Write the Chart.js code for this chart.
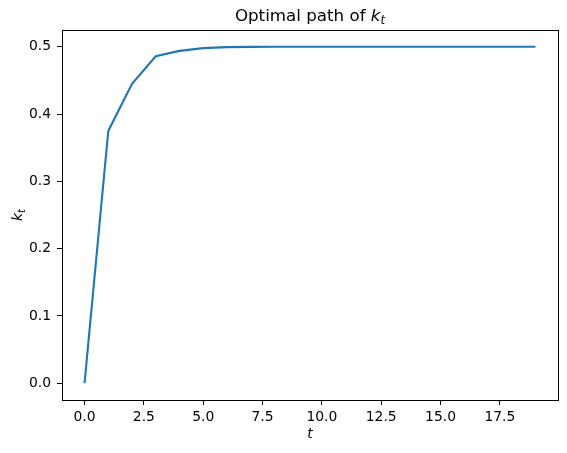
<!DOCTYPE html>
<html>
<head>
<meta charset="utf-8">
<script src="https://cdn.jsdelivr.net/npm/chart.js@4"></script>
<style>
  html, body { margin: 0; padding: 0; background: #fff; }
  #wrap { width: 567px; height: 453px; }
</style>
</head>
<body>
<div id="wrap"><canvas id="chart" width="567" height="453"></canvas></div>
<script>
// --- Data ---
const periods = [0, 1, 2, 3, 4, 5, 6, 7, 8, 9, 10, 11, 12, 13, 14, 15, 16, 17, 18, 19];
const kPath = [0, 0.375, 0.445, 0.486, 0.494, 0.498, 0.4995, 0.4999, 0.5, 0.5,
               0.5, 0.5, 0.5, 0.5, 0.5, 0.5, 0.5, 0.5, 0.5, 0.5];
const xTicks = [0, 2.5, 5, 7.5, 10, 12.5, 15, 17.5];
const yTicks = [0, 0.1, 0.2, 0.3, 0.4, 0.5];

const FONT = 'DejaVu Sans';

// frame + mathtext labels (matplotlib style)
const decorations = {
  id: 'decorations',
  afterDraw(chart) {
    const { ctx, chartArea: a } = chart;
    ctx.save();
    ctx.strokeStyle = '#000';
    ctx.lineWidth = 1;
    ctx.strokeRect(Math.round(a.left) + 0.5, Math.round(a.top) + 0.5,
                   Math.round(a.right - a.left), Math.round(a.bottom - a.top));
    ctx.fillStyle = '#000';
    ctx.textBaseline = 'alphabetic';

    // title: "Optimal path of k_t"
    const cx = (a.left + a.right) / 2;
    const base = 'Optimal path of ';
    ctx.font = `16.7px "${FONT}"`;
    const w1 = ctx.measureText(base).width;
    ctx.font = `italic 16.7px "${FONT}"`;
    const w2 = ctx.measureText('k').width;
    ctx.font = `italic 11.7px "${FONT}"`;
    const w3 = ctx.measureText('t').width;
    let x = cx - (w1 + w2 + w3) / 2;
    const ty = 21;
    ctx.textAlign = 'left';
    ctx.font = `16.7px "${FONT}"`;
    ctx.fillText(base, x, ty);
    x += w1;
    ctx.font = `italic 16.7px "${FONT}"`;
    ctx.fillText('k', x, ty);
    x += w2;
    ctx.font = `italic 11.7px "${FONT}"`;
    ctx.fillText('t', x, ty + 3);

    // x label: t
    ctx.textAlign = 'center';
    ctx.font = `italic 13.9px "${FONT}"`;
    ctx.fillText('t', cx, 438);

    // y label: k_t (rotated)
    const cy = (a.top + a.bottom) / 2;
    ctx.translate(22, cy);
    ctx.rotate(-Math.PI / 2);
    ctx.font = `italic 13.9px "${FONT}"`;
    const kw = ctx.measureText('k').width;
    ctx.font = `italic 9.7px "${FONT}"`;
    const tw = ctx.measureText('t').width;
    ctx.textAlign = 'left';
    ctx.font = `italic 13.9px "${FONT}"`;
    ctx.fillText('k', -(kw + tw) / 2, 0);
    ctx.font = `italic 9.7px "${FONT}"`;
    ctx.fillText('t', -(kw + tw) / 2 + kw, 2.5);
    ctx.restore();
  }
};

new Chart(document.getElementById('chart'), {
  type: 'line',
  data: {
    datasets: [{
      data: periods.map((t, i) => ({ x: t, y: kPath[i] })),
      borderColor: '#1f77b4',
      borderWidth: 2.1,
      pointRadius: 0,
      tension: 0,
      fill: false
    }]
  },
  options: {
    responsive: false,
    animation: false,
    layout: { padding: { top: 30, right: 9, left: 0, bottom: 0 } },
    plugins: {
      legend: { display: false },
      title: { display: false },
      tooltip: { enabled: false }
    },
    scales: {
      x: {
        type: 'linear',
        min: -0.95,
        max: 19.95,
        afterBuildTicks: (s) => { s.ticks = xTicks.map(v => ({ value: v })); },
        afterFit: (s) => { s.height = 53; },
        border: { display: false },
        grid: { drawOnChartArea: false, tickLength: 5, color: '#000', tickColor: '#000' },
        ticks: {
          color: '#000',
          padding: 4,
          maxRotation: 0,
          autoSkip: false,
          font: { family: FONT, size: 13.9 },
          callback: (v) => v.toFixed(1)
        }
      },
      y: {
        type: 'linear',
        min: -0.025,
        max: 0.525,
        afterBuildTicks: (s) => { s.ticks = yTicks.map(v => ({ value: v })); },
        afterFit: (s) => { s.width = 62; },
        border: { display: false },
        grid: { drawOnChartArea: false, tickLength: 5, color: '#000', tickColor: '#000' },
        ticks: {
          color: '#000',
          padding: 6,
          autoSkip: false,
          font: { family: FONT, size: 13.9 },
          callback: (v) => v.toFixed(1)
        }
      }
    }
  },
  plugins: [decorations]
});
</script>
</body>
</html>
